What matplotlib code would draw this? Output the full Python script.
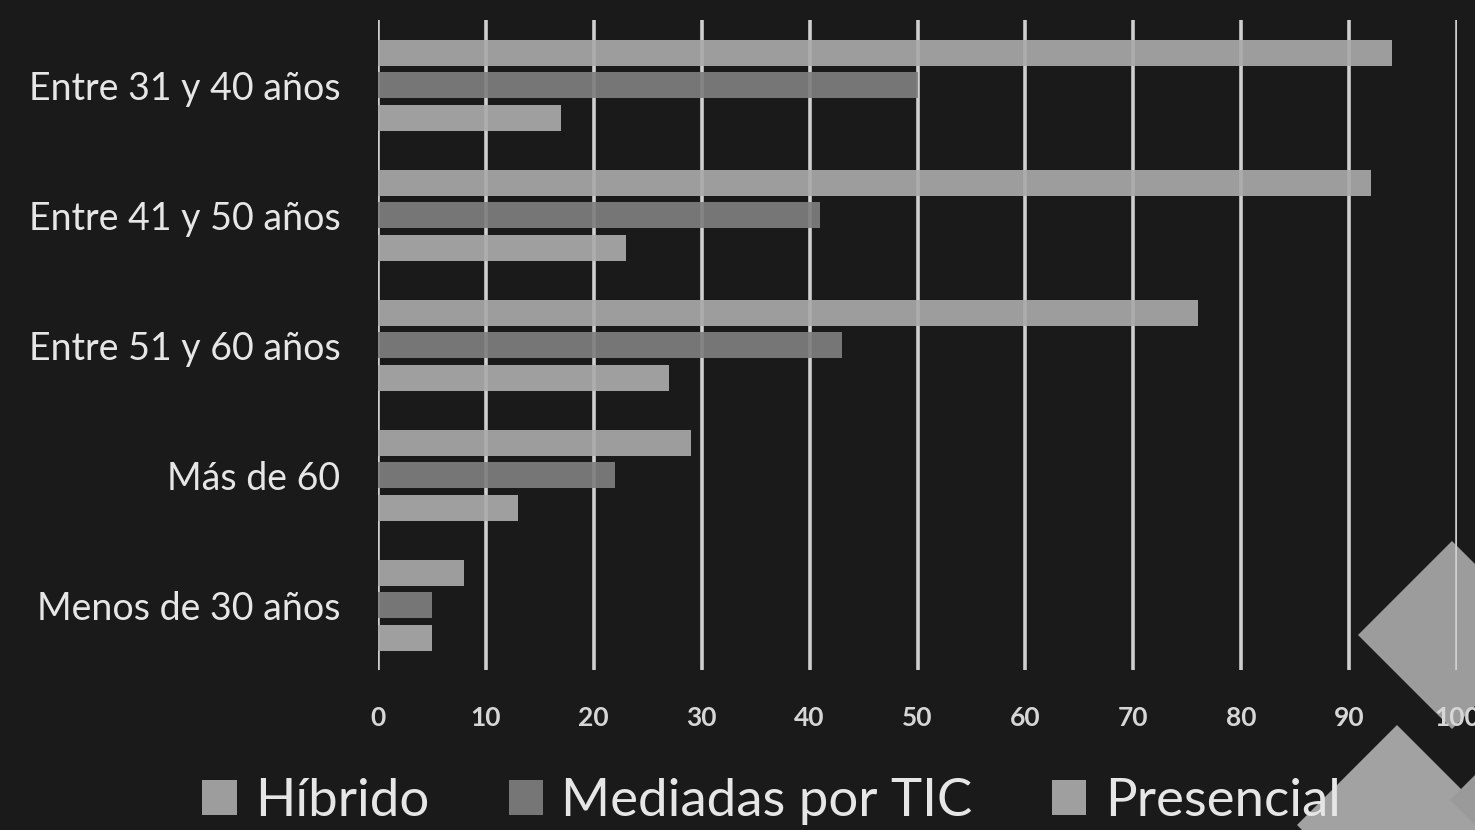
import matplotlib.pyplot as plt
import numpy as np
from matplotlib.patches import Polygon

# data
categories = ["Entre 31 y 40 años", "Entre 41 y 50 años", "Entre 51 y 60 años",
              "Más de 60", "Menos de 30 años"]
hibrido = [94, 92, 76, 29, 8]
mediadas_tic = [50, 41, 43, 22, 5]
presencial = [17, 23, 27, 13, 5]
series_names = ["Híbrido", "Mediadas por TIC", "Presencial"]
xticks = list(range(0, 101, 10))

bg = "#1a1a1a"
colors = ["#a9a9a9", "#7f7f7f", "#ababab"]
font = ["Lato", "DejaVu Sans"]

fig = plt.figure(figsize=(14.75, 8.3), dpi=100, facecolor=bg)
ax = fig.add_axes([378 / 1475, 1 - 670 / 830, (1457 - 378) / 1475, 650 / 830])
ax.set_facecolor("none")

y = np.arange(len(categories))
h = 0.2
for vals, off, c, name in zip([hibrido, mediadas_tic, presencial], [-0.25, 0, 0.25],
                              colors, series_names):
    ax.barh(y + off, vals, height=h, color=c, label=name, zorder=3, alpha=0.92)

ax.set_xlim(0, 100)
ax.set_ylim(len(categories) - 0.5, -0.5)
ax.set_xticks(xticks)
ax.set_yticks(y)
ax.set_yticklabels(categories, fontsize=27, color="#e6e6e6", family=font)
ax.set_xticklabels([str(t) for t in xticks], fontsize=19, color="#d6d6d6", family=font,
                   fontweight="bold")
ax.tick_params(axis="both", length=0)
ax.tick_params(axis="y", pad=27)
ax.tick_params(axis="x", pad=26)
ax.grid(axis="x", color="#cfcfcf", linewidth=2.6, zorder=1)
for s in ax.spines.values():
    s.set_visible(False)

leg = fig.legend(loc="center", bbox_to_anchor=(0.523, 0.034), ncol=3, frameon=False,
                 prop={"family": font, "size": 38}, labelcolor="#e6e6e6",
                 handlelength=0.65, handleheight=0.65, handletextpad=0.35, columnspacing=1.5)

# decorative diamonds in the corner, behind the chart
def diamond(cx, cy, r, color):
    pts = [(cx, cy - r), (cx + r, cy), (cx, cy + r), (cx - r, cy)]
    pts = [(px / 1475, 1 - py / 830) for px, py in pts]
    fig.patches.append(Polygon(pts, closed=True, transform=fig.transFigure,
                               facecolor=color, edgecolor="none", zorder=-1))

diamond(1452, 635, 94, "#9c9c9c")
diamond(1397, 825, 100, "#a2a2a2")
diamond(1510, 800, 60, "#9a9a9a")

fig.savefig("out.png", facecolor=bg)
